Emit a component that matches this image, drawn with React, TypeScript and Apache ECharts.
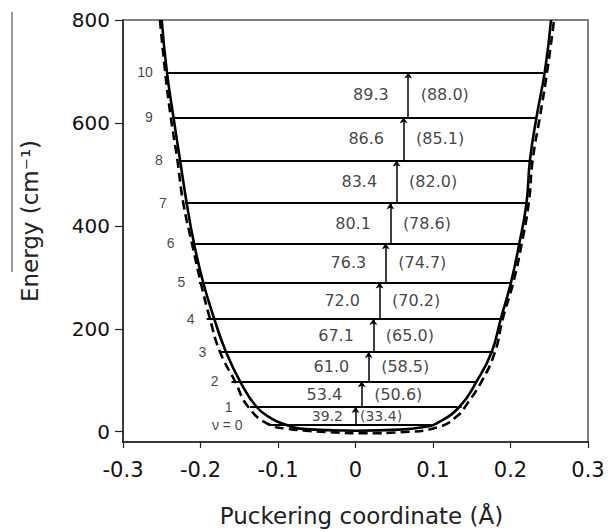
import React, { useEffect, useRef } from "react";
import * as echarts from "echarts";

// ---- data ----
const xTicks = [-0.3, -0.2, -0.1, 0, 0.1, 0.2, 0.3];
const yTicks = [0, 200, 400, 600, 800];

const levelTags = ["ν = 0", "1", "2", "3", "4", "5", "6", "7", "8", "9", "10"];
const levelEnergy = [14, 48, 98, 155, 219, 290, 366, 444, 527, 611, 698];
const levelLeftX = [-0.110, -0.136, -0.160, -0.176, -0.192, -0.202, -0.211, -0.220, -0.227, -0.234, -0.242];
const levelRightX = [0.098, 0.137, 0.156, 0.178, 0.189, 0.202, 0.212, 0.222, 0.228, 0.233, 0.242];
const levelTagX = [-0.145, -0.158, -0.176, -0.192, -0.207, -0.219, -0.233, -0.243, -0.248, -0.261, -0.261];

const transitionCalc = [39.2, 53.4, 61.0, 67.1, 72.0, 76.3, 80.1, 83.4, 86.6, 89.3];
const transitionObs = [33.4, 50.6, 58.5, 65.0, 70.2, 74.7, 78.6, 82.0, 85.1, 88.0];
const arrowX = [0.000, 0.008, 0.017, 0.023, 0.031, 0.039, 0.045, 0.053, 0.062, 0.068];

const solidX = [-0.250, -0.2436, -0.2351, -0.2265, -0.2178, -0.2084, -0.1965, -0.1822, -0.1671, -0.1490, -0.1275, -0.1077, -0.0888, -0.0716, -0.0329, 0.0006, 0.0574, 0.0919, 0.1048, 0.1339, 0.1564, 0.1757, 0.1874, 0.2006, 0.2114, 0.2206, 0.2252, 0.2338, 0.2445, 0.2523];
const solidE = [800, 702, 613, 529, 444, 366, 290, 219, 155, 98, 48, 25, 13, 6, 3, 2, 4, 10, 16, 48, 98, 155, 219, 290, 366, 444, 529, 613, 702, 800];

const dashedX = [-0.2523, -0.2458, -0.2385, -0.2299, -0.2222, -0.2110, -0.1997, -0.1877, -0.1748, -0.1555, -0.1383, -0.1103, -0.0888, -0.0630, -0.0329, 0.0145, 0.0574, 0.1090, 0.1348, 0.1413, 0.1628, 0.1800, 0.1899, 0.2036, 0.2145, 0.2235, 0.2287, 0.2381, 0.2475, 0.2561];
const dashedE = [800, 702, 613, 529, 444, 366, 290, 219, 155, 98, 48, 13, 6, 2, -1, -3, -1, 10, 35, 48, 98, 155, 219, 290, 366, 444, 529, 613, 702, 800];

const FONT = "DejaVu Sans";

export default function App() {
  const ref = useRef<HTMLDivElement>(null);
  useEffect(() => {
    if (!ref.current) return;
    document.body.style.margin = "0";
    const chart = echarts.init(ref.current, null, { renderer: "svg" });

    const levelData = levelEnergy.map((e, i) => ({
      coords: [[levelLeftX[i], e], [levelRightX[i], e]],
    }));
    const arrowData = arrowX.map((x, i) => ({
      coords: [[x, levelEnergy[i]], [x, levelEnergy[i + 1]]],
    }));
    const leftLabelData = transitionCalc.map((v, i) => ({
      value: [arrowX[i], (levelEnergy[i] + levelEnergy[i + 1]) / 2],
      label: {
        formatter: v.toFixed(1),
        distance: i === 0 ? 12 : 19,
        fontSize: i === 0 ? 14 : 16,
      },
    }));
    const rightLabelData = transitionObs.map((v, i) => ({
      value: [arrowX[i], (levelEnergy[i] + levelEnergy[i + 1]) / 2],
      label: {
        formatter: "(" + v.toFixed(1) + ")",
        distance: i === 0 ? 4 : 12,
        fontSize: i === 0 ? 14 : 16,
      },
    }));
    const tagData = levelTags.map((t, i) => ({
      value: [levelTagX[i], levelEnergy[i]],
      label: { formatter: t },
    }));

    chart.setOption({
      animation: false,
      grid: {
        left: 123,
        right: 20,
        top: 20,
        bottom: 86,
        show: true,
        borderColor: "#555",
        borderWidth: 1.5,
      },
      graphic: [
        {
          type: "line",
          shape: { x1: 12, y1: 12, x2: 12, y2: 272 },
          style: { stroke: "#333", lineWidth: 1 },
        },
      ],
      xAxis: {
        type: "value",
        min: xTicks[0],
        max: xTicks[xTicks.length - 1],
        interval: 0.1,
        axisLine: { show: true, onZero: false, lineStyle: { color: "#222", width: 1.5 } },
        axisTick: { show: true, length: 6, lineStyle: { color: "#222", width: 1.2 } },
        axisLabel: {
          fontSize: 21,
          fontFamily: FONT,
          color: "#111",
          margin: 17,
          formatter: (v: number) => String(Math.round(v * 10) / 10),
        },
        splitLine: { show: false },
        name: "Puckering coordinate (Å)",
        nameLocation: "middle",
        nameGap: 62,
        nameTextStyle: { fontSize: 23, fontFamily: FONT, color: "#222", padding: [0, 0, 0, 12] },
      },
      yAxis: {
        type: "value",
        min: -20,
        max: 800,
        axisLine: { show: true, onZero: false, lineStyle: { color: "#222", width: 1.5 } },
        axisTick: { show: true, length: 8, customValues: yTicks, lineStyle: { color: "#222", width: 1.2 } },
        axisLabel: {
          fontSize: 20,
          fontFamily: FONT,
          color: "#111",
          margin: 13,
          customValues: yTicks,
        },
        splitLine: { show: false },
        name: "Energy (cm⁻¹)",
        nameLocation: "middle",
        nameGap: 82,
        nameTextStyle: { fontSize: 23, fontFamily: FONT, color: "#222", padding: [0, 0, 0, 20] },
      },
      series: [
        {
          type: "line",
          data: solidX.map((x, i) => [x, solidE[i]]),
          showSymbol: false,
          symbol: "none",
          smooth: 0.5,
          lineStyle: { color: "#000", width: 2.6 },
          silent: true,
          z: 3,
        },
        {
          type: "line",
          data: dashedX.map((x, i) => [x, dashedE[i]]),
          showSymbol: false,
          symbol: "none",
          smooth: 0.5,
          lineStyle: { color: "#000", width: 2.6, type: [9, 5] },
          silent: true,
          z: 3,
        },
        {
          type: "lines",
          coordinateSystem: "cartesian2d",
          data: levelData,
          lineStyle: { color: "#000", width: 2, opacity: 1 },
          silent: true,
          z: 4,
        },
        {
          type: "lines",
          coordinateSystem: "cartesian2d",
          data: arrowData,
          symbol: ["none", "arrow"],
          symbolSize: 6,
          lineStyle: { color: "#000", width: 1.5, opacity: 1 },
          silent: true,
          z: 4,
        },
        {
          type: "scatter",
          data: leftLabelData,
          symbolSize: 1,
          itemStyle: { color: "transparent" },
          label: { show: true, position: "left", color: "#111", fontFamily: FONT },
          silent: true,
          z: 5,
        },
        {
          type: "scatter",
          data: rightLabelData,
          symbolSize: 1,
          itemStyle: { color: "transparent" },
          label: { show: true, position: "right", color: "#111", fontFamily: FONT },
          silent: true,
          z: 5,
        },
        {
          type: "scatter",
          data: tagData,
          symbolSize: 1,
          itemStyle: { color: "transparent" },
          label: {
            show: true,
            position: "left",
            distance: 0,
            color: "#111",
            fontSize: 14,
            fontFamily: "Liberation Sans",
          },
          silent: true,
          z: 5,
        },
      ],
    });
    return () => chart.dispose();
  }, []);
  return <div ref={ref} style={{ width: 608, height: 532 }} />;
}
